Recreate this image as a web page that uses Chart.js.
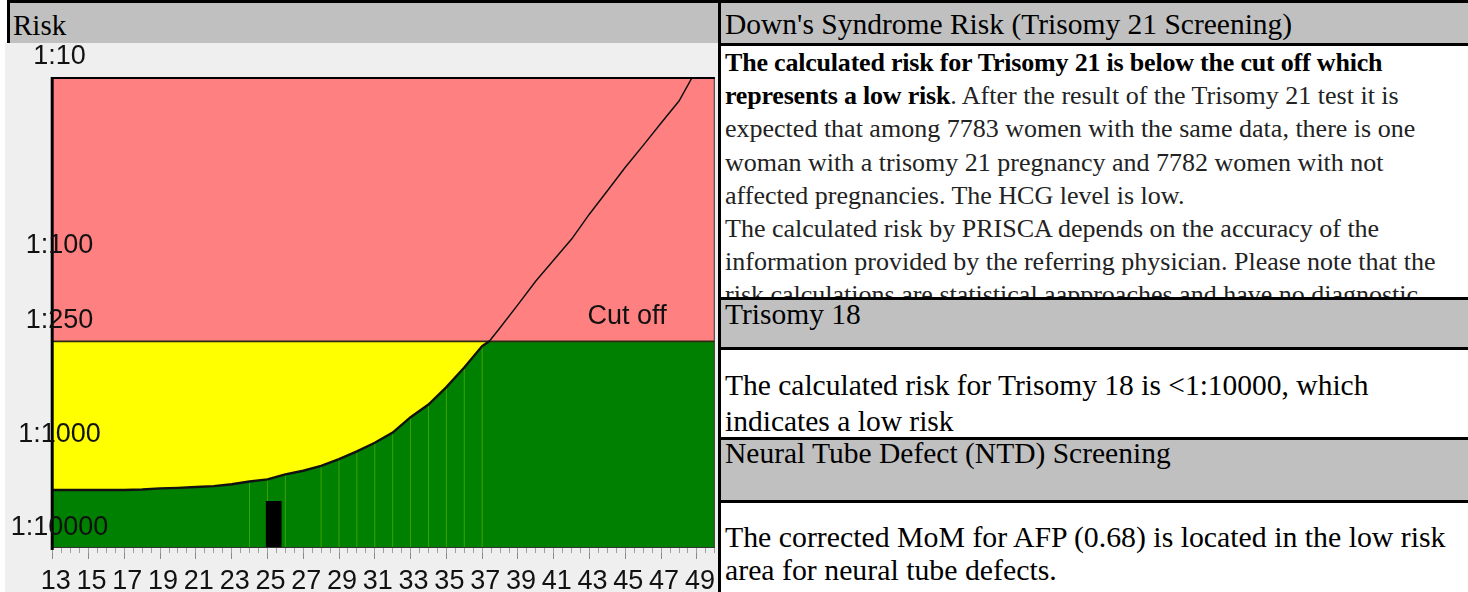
<!DOCTYPE html>
<html>
<head>
<meta charset="utf-8">
<title>Risk</title>
<script src="https://cdn.jsdelivr.net/npm/chart.js@4.4.1/dist/chart.umd.min.js"></script>
<style>
  html, body { margin: 0; padding: 0; background: #fff; width: 1468px; height: 592px; overflow: hidden; }
  body { position: relative; font-family: "Liberation Serif", "Times New Roman", serif; color: #111; }
  .abs { position: absolute; }
  .gray { background: #c0c0c0; }
  .black { background: #000; }
  .txt { position: absolute; white-space: nowrap; line-height: 1; font-size: 29.5px; color: #000; }
  #chartBox { left: 5px; top: 43px; width: 713px; height: 549px; background: #efefef; }
  .block1 { position: absolute; left: 725px; top: 46px; width: 743px; height: 251px; overflow: hidden; white-space: nowrap; font-size: 26px; line-height: 33.2px; color: #222; }
  .block1 b { color: #000; letter-spacing: -0.2px; }
</style>
</head>
<body>
<!-- frame of the report table -->
<div class="abs black" style="left:7px;top:0;width:1461px;height:3px;"></div>
<div class="abs black" style="left:7px;top:0;width:3px;height:43px;"></div>
<div class="abs gray" style="left:10px;top:3px;width:708px;height:40px;"></div>
<div id="chartBox" class="abs"><canvas id="riskChart" width="713" height="549"></canvas></div>
<div class="abs black" style="left:718px;top:0;width:3px;height:592px;"></div>

<div class="abs gray" style="left:721px;top:3px;width:747px;height:40px;"></div>
<div class="abs black" style="left:721px;top:43px;width:747px;height:3px;"></div>
<div class="abs black" style="left:721px;top:297px;width:747px;height:3px;"></div>
<div class="abs gray" style="left:721px;top:300px;width:747px;height:47px;"></div>
<div class="abs black" style="left:721px;top:347px;width:747px;height:3px;"></div>
<div class="abs black" style="left:721px;top:437px;width:747px;height:3px;"></div>
<div class="abs gray" style="left:721px;top:440px;width:747px;height:60px;"></div>
<div class="abs black" style="left:721px;top:500px;width:747px;height:3px;"></div>

<!-- texts -->
<div class="txt" style="left:13px;top:10.7px;font-size:29px;">Risk</div>
<div class="txt" style="left:725px;top:10.3px;">Down's Syndrome Risk (Trisomy 21 Screening)</div>
<div class="block1">
  <b>The calculated risk for Trisomy 21 is below the cut off which</b><br>
  <b>represents a low risk</b>. After the result of the Trisomy 21 test it is<br>
  expected that among 7783 women with the same data, there is one<br>
  woman with a trisomy 21 pregnancy and 7782 women with not<br>
  affected pregnancies. The HCG level is low.<br>
  The calculated risk by PRISCA depends on the accuracy of the<br>
  information provided by the referring physician. Please note that the<br>
  risk calculations are statistical aapproaches and have no diagnostic<br>
  value.
</div>
<div class="txt" style="left:725px;top:300.3px;">Trisomy 18</div>
<div class="txt" style="left:725px;top:366.7px;line-height:36.7px;">
  The calculated risk for Trisomy 18 is &lt;1:10000, which<br>
  indicates a low risk
</div>
<div class="txt" style="left:725px;top:438.6px;">Neural Tube Defect (NTD) Screening</div>
<div class="txt" style="left:725px;top:519.9px;line-height:33.3px;font-size:29.8px;">
  The corrected MoM for AFP (0.68) is located in the low risk<br>
  area for neural tube defects.
</div>

<script>
// maternal age (years) and the age-related risk curve (1:N)
const ages = [13, 14, 15, 16, 17, 18, 19, 20, 21, 22, 23, 24, 25, 26, 27, 28, 29, 30,
  31, 32, 33, 34, 35, 36, 37, 37.4, 38, 39, 40, 41, 42, 43, 44, 45, 46, 47, 48, 48.75];
const riskDenominators = [1530, 1530, 1530, 1530, 1530, 1520, 1500, 1490, 1475, 1460, 1425, 1380, 1345, 1265, 1210, 1140, 1050, 955,
  860, 760, 630, 540, 437, 344, 265, 250, 212, 160, 120, 93, 72, 53, 40, 30, 23, 17.5, 13.4, 10];

const cutoffRisk = 250;
const patientAgeSpan = [24.9, 25.8];
const patientRisk = 1750;

// axis range and ticks
const xMin = 13, xMax = 50;
const yTop = 10, yBottom = 3100;
const xTickLabels = [13, 15, 17, 19, 21, 23, 25, 27, 29, 31, 33, 35, 37, 39, 41, 43, 45, 47, 49];
const yTickValues = [10, 100, 250, 1000, 3100];
const yTickLabels = ['1:10', '1:100', '1:250', '1:1000', '1:10000'];
const seamAges = [24, 25, 26, 28, 29, 30, 31, 32, 33, 34, 35, 36, 37];

const labelFont = { family: '"Liberation Sans", Arial, sans-serif', size: 27 };

const curvePoints = ages.map((a, i) => ({ x: a, y: riskDenominators[i] }));
const greenEdge = ages.map((a, i) => ({ x: a, y: Math.max(riskDenominators[i], cutoffRisk) }));
greenEdge.push({ x: xMax, y: cutoffRisk });
const cutoffPoints = [{ x: xMin, y: cutoffRisk }, { x: xMax, y: cutoffRisk }];

// faint seams between the filled strips of the green area
const seamSets = seamAges.map(a => ({
  data: [{ x: a, y: riskDenominators[ages.indexOf(a)] }, { x: a, y: yBottom }],
  borderColor: 'rgba(170, 215, 0, 0.15)',
  borderWidth: 1,
  pointRadius: 0,
  fill: false
}));

// frame around the plot and the "Cut off" text
const framePlugin = {
  id: 'frame',
  afterDatasetsDraw(chart) {
    const { ctx, chartArea: a, scales } = chart;
    ctx.save();
    ctx.strokeStyle = '#333';
    ctx.lineWidth = 1;
    ctx.beginPath();
    ctx.moveTo(a.right - 0.5, a.top);
    ctx.lineTo(a.right - 0.5, a.bottom);
    ctx.moveTo(a.left, a.bottom - 0.5);
    ctx.lineTo(a.right, a.bottom - 0.5);
    ctx.stroke();
    ctx.strokeStyle = '#000';
    ctx.lineWidth = 2;
    ctx.beginPath();
    ctx.moveTo(a.left, a.top + 1);
    ctx.lineTo(a.right, a.top + 1);
    ctx.stroke();
    ctx.lineWidth = 3;
    ctx.beginPath();
    ctx.moveTo(a.left - 0.5, a.top);
    ctx.lineTo(a.left - 0.5, a.bottom + 2);
    ctx.stroke();

    ctx.fillStyle = '#111';
    ctx.font = labelFont.size + 'px ' + labelFont.family;
    ctx.textAlign = 'center';
    ctx.textBaseline = 'middle';
    ctx.fillText('Cut off', scales.x.getPixelForValue(45.1), scales.y.getPixelForValue(cutoffRisk) - 25);
    ctx.restore();
  }
};

new Chart(document.getElementById('riskChart'), {
  type: 'line',
  data: {
    datasets: [
      {
        data: curvePoints,
        borderColor: '#111',
        borderWidth: 2,
        segment: { borderWidth: c => (c.p0.parsed.x >= 37.4 ? 1.5 : 2.4) },
        pointRadius: 0,
        fill: false
      },
      {
        data: [{ x: patientAgeSpan[0], y: patientRisk }, { x: patientAgeSpan[1], y: patientRisk }],
        borderWidth: 0,
        pointRadius: 0,
        backgroundColor: '#000',
        fill: { value: yBottom }
      },
      {
        data: cutoffPoints,
        borderColor: '#2d2a12',
        borderWidth: 1.8,
        pointRadius: 0,
        backgroundColor: '#ff8080',
        fill: { value: yTop }
      },
      ...seamSets,
      {
        data: greenEdge,
        borderWidth: 0,
        pointRadius: 0,
        backgroundColor: '#008000',
        fill: { value: yBottom }
      },
      {
        data: cutoffPoints,
        borderWidth: 0,
        pointRadius: 0,
        backgroundColor: '#ffff00',
        fill: { value: yBottom }
      }
    ]
  },
  options: {
    responsive: false,
    animation: false,
    devicePixelRatio: 1,
    layout: { padding: { top: 34, right: 3, left: 0, bottom: 0 } },
    plugins: { legend: { display: false }, tooltip: { enabled: false } },
    scales: {
      x: {
        type: 'linear',
        min: xMin,
        max: xMax,
        weight: 1,
        afterBuildTicks: s => { s.ticks = xTickLabels.map(v => ({ value: v })); },
        afterFit: s => { s.height = 44; },
        grid: { drawOnChartArea: false, drawTicks: true, tickLength: 11, tickColor: '#8a8a8a', tickWidth: 1 },
        border: { display: false },
        ticks: { autoSkip: false, maxRotation: 0, padding: 6, labelOffset: 3, color: '#111', font: labelFont, callback: v => String(v) }
      },
      xMinor: {
        type: 'linear',
        position: 'bottom',
        min: xMin,
        max: xMax,
        weight: 0,
        afterBuildTicks: s => {
          const t = [];
          for (let v = xMin; v <= xMax; v += 0.5) t.push({ value: v });
          s.ticks = t;
        },
        afterFit: s => { s.height = 0; },
        grid: { drawOnChartArea: false, drawTicks: true, tickLength: 5, tickColor: '#a0a0a0', tickWidth: 1 },
        border: { display: false },
        ticks: { display: false }
      },
      y: {
        type: 'logarithmic',
        reverse: true,
        min: yTop,
        max: yBottom,
        afterBuildTicks: s => { s.ticks = yTickValues.map(v => ({ value: v })); },
        afterFit: s => { s.width = 47.7; },
        grid: { display: false },
        border: { display: false },
        ticks: {
          z: 1,
          autoSkip: false,
          mirror: true,
          crossAlign: 'center',
          padding: -42,
          labelOffset: -20.5,
          color: '#111',
          font: labelFont,
          callback: (v, i) => yTickLabels[i]
        }
      }
    }
  },
  plugins: [framePlugin]
});
</script>
</body>
</html>
